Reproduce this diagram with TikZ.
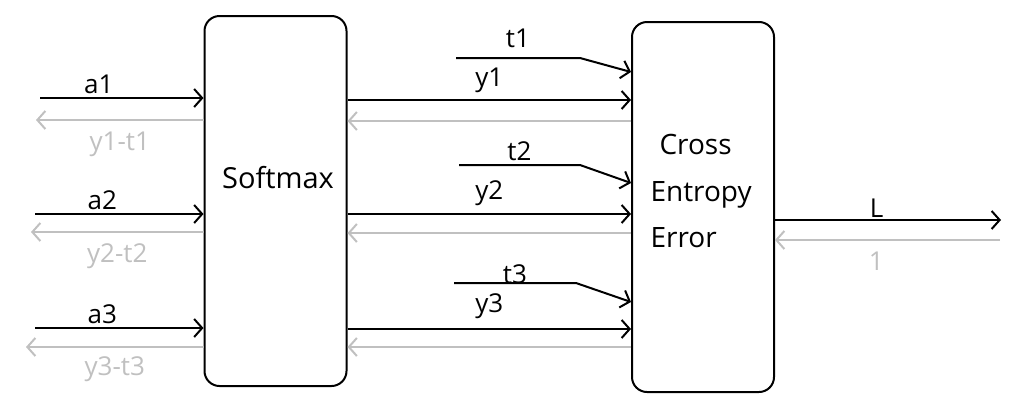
\documentclass[tikz,border=0pt]{standalone}
\usepackage{fontspec}
\setmainfont{Open Sans}
\usetikzlibrary{arrows.meta,positioning}

\definecolor{backgray}{RGB}{192,192,192}

\begin{document}
\begin{tikzpicture}[
  x=1pt, y=-1pt,
  font=\fontsize{26}{31}\selectfont,
  box/.style={draw, line width=2pt, rounded corners=15pt, minimum width=142pt, minimum height=370pt, inner sep=0pt},
  fwd/.style={-{Straight Barb[length=8pt,width=18pt]}, line width=2pt},
  bwd/.style={-{Straight Barb[length=8pt,width=18pt]}, line width=2pt, draw=backgray},
  lbl/.style={inner sep=1pt},
  glbl/.style={inner sep=1pt, text=backgray}
]
\useasboundingbox (0,0) rectangle (1024,405);

% the two layers
\node[box] (smx) at (275.5,201) {};
\node[box] (cee) at (703,207) {};
\node[font=\fontsize{29}{34}\selectfont] (smxtext) at (278,178) {Softmax};
\node[font=\fontsize{28}{46.5}\selectfont, align=left, anchor=west] (ceetext) at (647,191) {\hspace{9pt}Cross\\Entropy\\Error};

% inputs of softmax
\coordinate (a1) at (40,98);
\coordinate (a2) at (35,214);
\coordinate (a3) at (35,328);
\coordinate (g1) at (36,120);
\coordinate (g2) at (31,232);
\coordinate (g3) at (26,347);
\draw[fwd] (a1) -- (a1 -| smx.west) node[lbl, pos=0.36, above=2pt] {a1};
\draw[bwd] (g1 -| smx.west) -- (g1) node[glbl, midway, below=10pt] {y1-t1};
\draw[fwd] (a2) -- (a2 -| smx.west) node[lbl, pos=0.4, above=2pt] {a2};
\draw[bwd] (g2 -| smx.west) -- (g2) node[glbl, midway, below=10pt] {y2-t2};
\draw[fwd] (a3) -- (a3 -| smx.west) node[lbl, pos=0.4, above=2pt] {a3};
\draw[bwd] (g3 -| smx.west) -- (g3) node[glbl, midway, below=8pt] {y3-t3};

% softmax to cross entropy error
\coordinate (y1) at (0,100);
\coordinate (y2) at (0,214);
\coordinate (y3) at (0,329);
\draw[fwd] (y1 -| smx.east) -- (y1 -| cee.west) node[lbl, midway, above=5pt] {y1};
\draw[bwd] (0,121 -| cee.west) -- (0,121 -| smx.east);
\draw[fwd] (y2 -| smx.east) -- (y2 -| cee.west) node[lbl, midway, above=6pt] {y2};
\draw[bwd] (0,233 -| cee.west) -- (0,233 -| smx.east);
\draw[fwd] (y3 -| smx.east) -- (y3 -| cee.west) node[lbl, midway, above=8pt] {y3};
\draw[bwd] (0,347 -| cee.west) -- (0,347 -| smx.east);

% teacher labels
\coordinate (t1) at (456,58);
\coordinate (t2) at (459,165);
\coordinate (t3) at (454,283);
\draw[fwd] (t1) -- (580,58) node[lbl, midway, above=8pt] {t1} -- (0,72 -| cee.west);
\draw[fwd] (t2) -- (580,165) node[lbl, midway, above=2pt] {t2} -- (0,183 -| cee.west);
\draw[fwd] (t3) -- (576,283) node[lbl, midway, above=-3pt] {t3} -- (0,302 -| cee.west);

% loss
\coordinate (lout) at (1001,220);
\coordinate (lin) at (1000,240);
\draw[fwd] (lout -| cee.east) -- (lout) node[lbl, pos=0.45, above=1pt] {L};
\draw[bwd] (lin) -- (lin -| cee.east) node[glbl, pos=0.55, below=10pt] {1};
\end{tikzpicture}
\end{document}
